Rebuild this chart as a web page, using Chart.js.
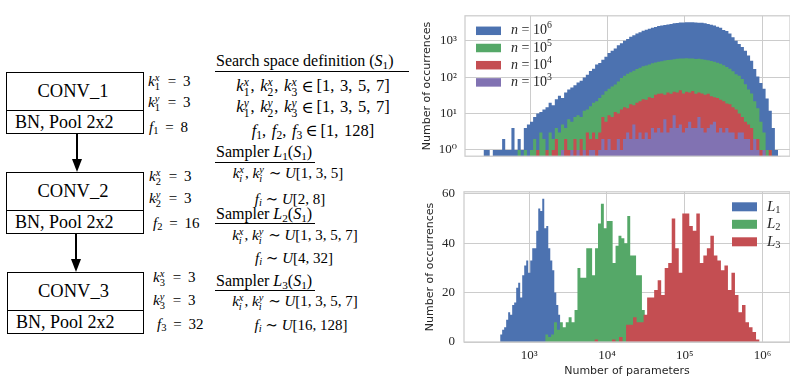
<!DOCTYPE html>
<html>
<head>
<meta charset="utf-8">
<script src="https://cdn.jsdelivr.net/npm/chart.js@4.4.1/dist/chart.umd.min.js"></script>
<style>
  body { margin: 0; width: 790px; height: 379px; overflow: hidden; position: relative; background: #fff;
         font-family: 'Liberation Serif', 'DejaVu Serif', serif; color: #000; }
  .box { position: absolute; border: 1.5px solid #000; box-sizing: border-box; display: flex; flex-direction: column; background: #fff; }
  .upper { box-sizing: border-box; height: 38px; border-bottom: 1.5px solid #000; display: flex; align-items: center;
           justify-content: center; font-size: 18.5px; padding-right: 4px; }
  .lower { flex: 1; display: flex; align-items: center; padding-left: 8px; font-size: 18px; }
  .l { position: absolute; transform: translateY(-50%); white-space: nowrap; line-height: 1; font-size: 15px; }
  .c { position: absolute; transform: translate(-50%, -50%); white-space: nowrap; line-height: 1; font-size: 15px; }
  .w3 { word-spacing: 3px; }
  .w4 { font-size: 16.5px; word-spacing: 1.5px; }
  .op { margin: 0 3px; }
  .t16 { font-size: 16px; }
  .ss { display: inline-flex; flex-direction: column; font-size: 0.7em; line-height: 0.9; vertical-align: 0.5em; margin-right: 1px; }
  sub { font-size: 0.7em; vertical-align: -0.25em; line-height: 0; }
  .rule { position: absolute; border-top: 1px solid #000; height: 0; }
  .shaft { position: absolute; width: 1.5px; background: #000; }
  .head { position: absolute; width: 0; height: 0; border-left: 5px solid transparent; border-right: 5px solid transparent; border-top: 13px solid #000; }
  canvas { position: absolute; }
</style>
</head>
<body>

<!-- network diagram -->
<div class="box" style="left:6px;top:72px;width:138px;height:62px"><div class="upper">CONV_1</div><div class="lower">BN, Pool 2x2</div></div>
<div class="box" style="left:6px;top:172px;width:138px;height:62px"><div class="upper">CONV_2</div><div class="lower">BN, Pool 2x2</div></div>
<div class="box" style="left:7px;top:272px;width:137px;height:62px"><div class="upper">CONV_3</div><div class="lower">BN, Pool 2x2</div></div>

<div class="shaft" style="left:76px;top:134px;height:28px"></div>
<div class="head" style="left:72px;top:159px"></div>
<div class="shaft" style="left:75px;top:234px;height:28px"></div>
<div class="head" style="left:71px;top:259px"></div>

<div class="l w3" style="left:148px;top:82px"><i>k</i><span class="ss"><i>x</i><span>1</span></span> = 3</div>
<div class="l w3" style="left:148px;top:103px"><i>k</i><span class="ss"><i>y</i><span>1</span></span> = 3</div>
<div class="l w3" style="left:149px;top:127px"><i>f</i><sub>1</sub> = 8</div>
<div class="l w3" style="left:149px;top:177px"><i>k</i><span class="ss"><i>x</i><span>2</span></span> = 3</div>
<div class="l w3" style="left:149px;top:199px"><i>k</i><span class="ss"><i>y</i><span>2</span></span> = 3</div>
<div class="l w3" style="left:153px;top:223px"><i>f</i><sub>2</sub> = 16</div>
<div class="l w3" style="left:153px;top:278px"><i>k</i><span class="ss"><i>x</i><span>3</span></span> = 3</div>
<div class="l w3" style="left:153px;top:301px"><i>k</i><span class="ss"><i>y</i><span>3</span></span> = 3</div>
<div class="l w3" style="left:157px;top:324px"><i>f</i><sub>3</sub> = 32</div>

<!-- search space / samplers -->
<div class="l t16" style="left:216px;top:61px">Search space definition (<i>S</i><sub>1</sub>)</div>
<div class="rule" style="left:215px;top:71px;width:194px"></div>
<div class="c w4" style="left:313px;top:87px"><i>k</i><span class="ss"><i>x</i><span>1</span></span>, <i>k</i><span class="ss"><i>x</i><span>2</span></span>, <i>k</i><span class="ss"><i>x</i><span>3</span></span><span class="op">∈</span>[1, 3, 5, 7]</div>
<div class="c w4" style="left:313px;top:108px"><i>k</i><span class="ss"><i>y</i><span>1</span></span>, <i>k</i><span class="ss"><i>y</i><span>2</span></span>, <i>k</i><span class="ss"><i>y</i><span>3</span></span><span class="op">∈</span>[1, 3, 5, 7]</div>
<div class="c w4" style="left:313px;top:131px"><i>f</i><sub>1</sub>, <i>f</i><sub>2</sub>, <i>f</i><sub>3</sub><span class="op">∈</span>[1, 128]</div>

<div class="l t16" style="left:216px;top:152px">Sampler <i>L</i><sub>1</sub>(<i>S</i><sub>1</sub>)</div>
<div class="rule" style="left:215px;top:162px;width:100px"></div>
<div class="c" style="left:288px;top:174px"><i>k</i><span class="ss"><i>x</i><i>i</i></span>, <i>k</i><span class="ss"><i>y</i><i>i</i></span> ∼ <i>U</i>[1, 3, 5]</div>
<div class="c" style="left:290px;top:199px"><i>f</i><sub><i>i</i></sub> ∼ <i>U</i>[2, 8]</div>

<div class="l t16" style="left:216px;top:214px">Sampler <i>L</i><sub>2</sub>(<i>S</i><sub>1</sub>)</div>
<div class="rule" style="left:215px;top:223px;width:100px"></div>
<div class="c" style="left:295px;top:236px"><i>k</i><span class="ss"><i>x</i><i>i</i></span>, <i>k</i><span class="ss"><i>y</i><i>i</i></span> ∼ <i>U</i>[1, 3, 5, 7]</div>
<div class="c" style="left:294px;top:258px"><i>f</i><sub><i>i</i></sub> ∼ <i>U</i>[4, 32]</div>

<div class="l t16" style="left:216px;top:281px">Sampler <i>L</i><sub>3</sub>(<i>S</i><sub>1</sub>)</div>
<div class="rule" style="left:215px;top:290px;width:100px"></div>
<div class="c" style="left:295px;top:302px"><i>k</i><span class="ss"><i>x</i><i>i</i></span>, <i>k</i><span class="ss"><i>y</i><i>i</i></span> ∼ <i>U</i>[1, 3, 5, 7]</div>
<div class="c" style="left:301px;top:325px"><i>f</i><sub><i>i</i></sub> ∼ <i>U</i>[16, 128]</div>

<canvas id="topChart" width="380" height="172" style="left:410px;top:0"></canvas>
<canvas id="botChart" width="380" height="204" style="left:410px;top:175px"></canvas>

<script>
// ---- top panel: histograms of log10(#params), shared bins ----
const binStart = 2.40;   // log10 of first bin edge
const binWidth = 0.04;
const countsN6 = [
  1,1,0,1,1,1,2,1,1,4, 1,2,1,4,5,6,8,10,11,13,
  15,20,17,25,31,27,38,46,52,60, 72,80,98,118,150,172,225,248,305,370,
  470,540,625,760,870,1010,1140,1310,1440,1620, 1740,1920,2040,2160,2310,2440,2600,2690,2760,2860,
  2950,3060,3130,3210,3250,3310,3290,3260,3240,3200, 3160,3060,2960,2800,2660,2460,2300,2020,1880,1610,
  1260,1020,830,680,540,400,285,170,105,70, 48,26,12,4,1,0
];
const countsN5 = [
  0,0,0,0,0,0,0,0,0,0, 0,1,0,1,0,1,2,1,3,2,
  1,3,2,4,3,5,4,7,6,8, 9,8,12,13,16,20,22,27,33,41,
  48,56,63,76,95,110,126,138,152,170, 183,200,212,226,242,254,268,276,290,298,
  306,316,322,327,331,336,330,332,321,326, 316,304,296,281,270,251,236,214,192,171,
  146,121,110,90,64,46,36,22,14,6, 3,1,1,0,0,0
];
const countsN4 = [
  0,0,0,0,0,0,0,0,0,0, 0,0,0,0,0,0,0,1,0,0,
  1,0,1,2,0,1,2,1,1,2, 1,2,1,3,2,3,2,3,8,6,
  9,8,11,10,13,15,14,18,17,20, 22,25,24,28,27,33,35,36,33,38,
  35,40,38,44,36,40,38,42,35,38, 36,33,35,30,28,27,24,22,19,18,
  15,13,10,8,6,5,4,2,2,1, 1,0,1,0,0,0
];
const countsN3 = [
  0,0,0,0,0,0,0,0,0,0, 0,0,0,0,0,0,0,0,0,0,
  0,0,0,0,0,1,0,0,1,0, 1,0,1,0,1,1,0,1,2,1,
  2,1,1,2,1,2,3,2,5,2, 3,2,3,2,4,3,4,3,7,3,
  4,9,4,5,3,4,6,4,4,8, 4,3,4,5,6,3,4,3,4,3,
  3,2,3,3,2,2,1,2,1,0, 1,0,0,0,0,0
];
const sampleExponents = ['6', '5', '4', '3'];

// ---- bottom panel: one histogram per sampler ----
const samplerNames = ['1', '2', '3'];
const l1Start = 2.626, l1Width = 0.0258;
const l1Counts = [3,5,6,9,12,11,15,16,22,24,18,27,31,33,28,33,38,38,45,54,53,58,46,47,38,33,29,20,15,11];
const l2Start = 3.206, l2Width = 0.0377;
const l2Counts = [3,2,3,8,5,8,6,8,10,8,13,30,26,26,38,38,27,38,48,56,46,49,49,32,39,43,42,40,51,35,35,27,27,13];
const l3Start = 3.839, l3Width = 0.0452;
const l3Counts = [1,0,0,0,0,1,0,2,0,7,7,10,8,8,11,18,18,21,25,19,30,32,50,38,28,52,52,47,45,52,32,35,38,43,35,33,29,31,21,28,19,12,15,8,6,4,1];

const decades = [3, 4, 5, 6];
const topYTicks = [1, 10, 100, 1000];
const botYTicks = [0, 20, 40, 60];

const BLUE = '#4C72B0', GREEN = '#55A868', RED = '#C44E52', PURPLE = '#8172B2';
const GRID = '#cccccc', INK = '#262626';
const SERIF = "'Liberation Serif', 'DejaVu Serif', serif";
const tickFont = { family: SERIF, size: 13 };
const titleFont = { family: "'DejaVu Sans', sans-serif", size: 11 };
const SUP = { '0': '⁰', '1': '¹', '2': '²', '3': '³', '4': '⁴', '5': '⁵', '6': '⁶' };

function steps(start, width, counts, zero) {
  const pts = counts.map((c, i) => ({ x: start + i * width, y: c === 0 ? zero : c }));
  pts.push({ x: start + counts.length * width, y: zero });
  return pts;
}

function histSet(label, color, order, pts, fill) {
  return { label, data: pts, order, backgroundColor: color, borderColor: 'rgba(0,0,0,0)', borderWidth: 0,
           pointRadius: 0, stepped: true, fill, tension: 0 };
}

function drawRich(ctx, x, y, segs, size) {
  for (const s of segs) {
    let fs = size, dy = 0, style = '';
    if (s.st === 'i') style = 'italic ';
    if (s.st === 'sup') { fs = size * 0.7; dy = -size * 0.36; }
    if (s.st === 'sub') { fs = size * 0.7; dy = size * 0.22; }
    ctx.font = style + fs + 'px ' + SERIF;
    ctx.fillText(s.t, x, y + dy);
    x += ctx.measureText(s.t).width;
  }
}

// frame around the plot area + legend drawn inside it
const framePlugin = {
  id: 'frame',
  afterDatasetsDraw(chart) {
    const { ctx, chartArea: a } = chart;
    ctx.save();
    ctx.strokeStyle = GRID;
    ctx.lineWidth = 1.25;
    ctx.strokeRect(a.left, a.top, a.right - a.left, a.bottom - a.top);
    ctx.restore();
  },
  afterDraw(chart, args, opts) {
    if (!opts.items) return;
    const { ctx, chartArea: a } = chart;
    ctx.save();
    ctx.textBaseline = 'middle';
    opts.items.forEach((it, i) => {
      const y = a.top + opts.y + i * opts.dy;
      ctx.fillStyle = it.color;
      ctx.fillRect(a.left + opts.x, y - opts.boxH / 2, opts.boxW, opts.boxH);
      ctx.fillStyle = INK;
      drawRich(ctx, a.left + opts.x + opts.boxW + opts.gap, y, it.segs, opts.size);
    });
    ctx.restore();
  }
};

const xMin = 2.161, xMax = 6.355;

function xAxis(showLabels, height) {
  return {
    type: 'linear', min: xMin, max: xMax,
    afterBuildTicks: s => { s.ticks = decades.map(v => ({ value: v })); },
    afterFit: s => { s.height = height; },
    grid: { color: GRID, lineWidth: 1, drawTicks: false },
    border: { display: false },
    ticks: { display: showLabels, font: tickFont, color: INK, padding: 6, maxRotation: 0,
             callback: v => '10' + SUP[String(v)] },
    title: { display: showLabels, text: 'Number of parameters', font: titleFont, color: INK, padding: { top: 0, bottom: 1 } }
  };
}

const topSets = [
  histSet('n6', BLUE, 4, steps(binStart, binWidth, countsN6, 0.01), 'start'),
  histSet('n5', GREEN, 3, steps(binStart, binWidth, countsN5, 0.01), 'start'),
  histSet('n4', RED, 2, steps(binStart, binWidth, countsN4, 0.01), 'start'),
  histSet('n3', PURPLE, 1, steps(binStart, binWidth, countsN3, 0.01), 'start')
];

new Chart(document.getElementById('topChart'), {
  type: 'line',
  data: { datasets: topSets },
  plugins: [framePlugin],
  options: {
    responsive: false, animation: false,
    layout: { padding: { top: 10, right: 0, left: 0, bottom: 0 } },
    plugins: {
      legend: { display: false }, tooltip: { enabled: false },
      frame: {
        x: 11, y: 15, dy: 17.2, boxW: 25, boxH: 8.5, gap: 10, size: 14,
        items: topSets.map((d, i) => ({ color: d.backgroundColor,
          segs: [{ t: 'n', st: 'i' }, { t: ' = 10' }, { t: sampleExponents[i], st: 'sup' }] }))
      }
    },
    scales: {
      x: xAxis(false, 6),
      y: {
        type: 'logarithmic', min: 0.67, max: 4945,
        afterBuildTicks: s => { s.ticks = topYTicks.map(v => ({ value: v })); },
        afterFit: s => { s.width = 55; },
        grid: { color: GRID, lineWidth: 1, drawTicks: false },
        border: { display: false },
        ticks: { font: tickFont, color: INK, padding: 8,
                 callback: v => '10' + SUP[String(Math.round(Math.log10(v)))] },
        title: { display: true, text: 'Number of occurrences', font: titleFont, color: INK, padding: { top: 11, bottom: 0 } }
      }
    }
  }
});

const botSets = [
  histSet('L1', BLUE, 3, steps(l1Start, l1Width, l1Counts, 0), 'origin'),
  histSet('L2', GREEN, 2, steps(l2Start, l2Width, l2Counts, 0), 'origin'),
  histSet('L3', RED, 1, steps(l3Start, l3Width, l3Counts, 0), 'origin')
];

new Chart(document.getElementById('botChart'), {
  type: 'line',
  data: { datasets: botSets },
  plugins: [framePlugin],
  options: {
    responsive: false, animation: false,
    layout: { padding: { top: 10, right: 0, left: 0, bottom: 0 } },
    plugins: {
      legend: { display: false }, tooltip: { enabled: false },
      frame: {
        x: 268, y: 15, dy: 17.5, boxW: 25, boxH: 9, gap: 10, size: 15,
        items: botSets.map((d, i) => ({ color: d.backgroundColor,
          segs: [{ t: 'L', st: 'i' }, { t: samplerNames[i], st: 'sub' }] }))
      }
    },
    scales: {
      x: xAxis(true, 37),
      y: {
        type: 'linear', min: 0, max: 60.8,
        afterBuildTicks: s => { s.ticks = botYTicks.map(v => ({ value: v })); },
        afterFit: s => { s.width = 54; },
        grid: { color: GRID, lineWidth: 1, drawTicks: false },
        border: { display: false },
        ticks: { font: tickFont, color: INK, padding: 9 },
        title: { display: true, text: 'Number of occurrences', font: titleFont, color: INK, padding: { top: 14, bottom: 0 } }
      }
    }
  }
});
</script>
</body>
</html>
